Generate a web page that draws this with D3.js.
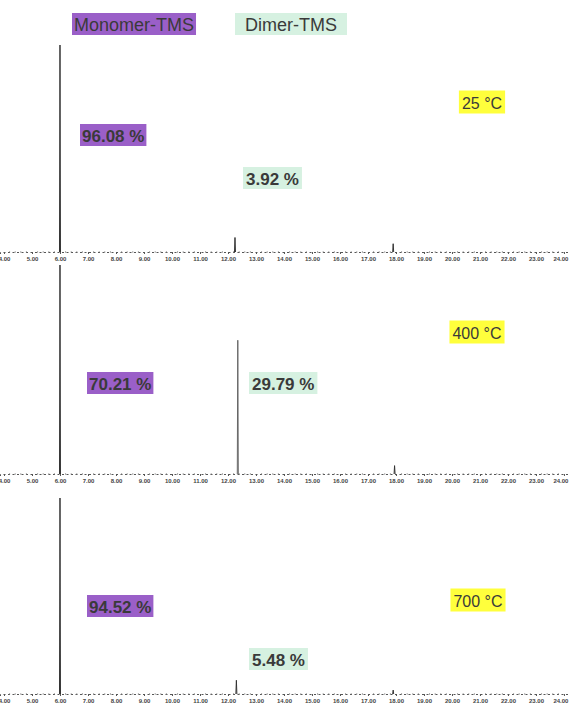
<!DOCTYPE html>
<html>
<head>
<meta charset="utf-8">
<script src="https://cdn.jsdelivr.net/npm/d3@7"></script>
<style>
  body { margin: 0; background: #fff; }
  svg { display: block; font-family: "Liberation Sans", Arial, sans-serif; }
</style>
</head>
<body>
<svg id="chart" width="569" height="709"></svg>
<script>
// series
const seriesNames = ["Monomer-TMS", "Dimer-TMS"];
const temperatures = ["25 \u00b0C", "400 \u00b0C", "700 \u00b0C"];
const monomerPct = ["96.08 %", "70.21 %", "94.52 %"];
const dimerPct = ["3.92 %", "29.79 %", "5.48 %"];

// retention time (min) of each peak: monomer, dimer, minor
const peakTimes25 = [6.0, 12.25, 17.9];
const peakTimes400 = [6.0, 12.35, 17.95];
const peakTimes700 = [6.0, 12.3, 17.9];
// relative abundance
const peakHeights25 = [100, 7, 4];
const peakHeights400 = [100, 64, 4];
const peakHeights700 = [100, 7, 2];

const tickLabels = ["4.00", "5.00", "6.00", "7.00", "8.00", "9.00", "10.00", "11.00", "12.00",
  "13.00", "14.00", "15.00", "16.00", "17.00", "18.00", "19.00", "20.00", "21.00", "22.00",
  "23.00", "24.00"];

const colors = { monomer: "#9a5fc8", dimer: "#d6f1e1", temp: "#ffff3c", text: "#3a3a3a" };

const svg = d3.select("#chart");
const W = 569;

const x = d3.scaleLinear().domain([3.857, 24.18]).range([0, W]);

const panels = [
  { times: peakTimes25, heights: peakHeights25, base: 252, top: 45,
    mono: [80, 135], dim: [243, 178], temp: [482, 102] },
  { times: peakTimes400, heights: peakHeights400, base: 474, top: 265,
    mono: [87, 383], dim: [249, 383], temp: [477, 332] },
  { times: peakTimes700, heights: peakHeights700, base: 694, top: 498,
    mono: [87, 606], dim: [249, 659], temp: [478, 600] }
];

// label in a coloured box; px = left edge (or centre), py = vertical centre
function boxLabel(g, txt, px, py, fill, opts) {
  const o = Object.assign({ size: 17, weight: "bold", padX: 3, h: 22, center: false }, opts);
  const grp = g.append("g");
  const rect = grp.append("rect").attr("fill", fill);
  const t = grp.append("text")
    .text(txt)
    .attr("font-size", o.size)
    .attr("font-weight", o.weight)
    .attr("fill", colors.text)
    .attr("dominant-baseline", "central")
    .attr("y", py + 1);
  const w = t.node().getComputedTextLength() + o.padX * 2;
  const left = o.center ? px - w / 2 : px;
  t.attr("x", left + o.padX);
  rect.attr("x", left).attr("y", py - o.h / 2).attr("width", w).attr("height", o.h);
}

// legend
boxLabel(svg, seriesNames[0], 72, 24, colors.monomer, { weight: "normal", size: 18, padX: 2, h: 22 });
boxLabel(svg, seriesNames[1], 235, 24, colors.dimer, { weight: "normal", size: 18, padX: 10, h: 22 });

panels.forEach((p, i) => {
  const g = svg.append("g");
  const y = d3.scaleLinear().domain([0, 100]).range([p.base, p.top]);

  // axis: dotted baseline with ticks and labels
  const axis = d3.axisBottom(x)
    .tickValues(tickLabels.map(Number))
    .tickFormat((d, k) => tickLabels[k])
    .tickSize(2)
    .tickPadding(3);
  const ax = g.append("g").attr("transform", `translate(0,${p.base})`).call(axis);
  ax.select(".domain").attr("stroke", "#555").attr("stroke-dasharray", "2,2.5").attr("stroke-width", 1);
  ax.selectAll(".tick line").attr("stroke", "#555");
  ax.selectAll(".tick text")
    .attr("font-size", 6)
    .attr("font-weight", "bold")
    .attr("fill", "#444")
    .attr("font-family", "Liberation Sans, Arial, sans-serif")
    .attr("text-anchor", (d, k) => k === tickLabels.length - 1 ? "end" : "middle")
    .attr("dx", (d, k) => k === tickLabels.length - 1 ? 4 : 0);

  // minor ticks
  const minorTicks = x.ticks(100).filter(t => Math.abs(t - Math.round(t)) > 1e-6);
  g.append("g").selectAll("line").data(minorTicks).join("line")
    .attr("x1", d => x(d)).attr("x2", d => x(d))
    .attr("y1", p.base - 1).attr("y2", p.base + 1)
    .attr("stroke", "#777").attr("stroke-width", 0.6);

  // peaks
  const line = d3.line().x(d => d[0]).y(d => d[1]);
  g.append("g").selectAll("path").data(p.times.map((t, k) => [t, p.heights[k]])).join("path")
    .attr("d", d => line([[x(d[0]) - 0.5, y(0)], [x(d[0]), y(d[1])], [x(d[0]) + 0.5, y(0)]]))
    .attr("fill", "none")
    .attr("stroke", (d, k) => k === 1 && i === 1 ? "#666" : "#333")
    .attr("stroke-width", 1);

  // labels
  boxLabel(g, monomerPct[i], p.mono[0], p.mono[1], colors.monomer, { padX: 2 });
  boxLabel(g, dimerPct[i], p.dim[0], p.dim[1], colors.dimer, { padX: 3 });
  boxLabel(g, temperatures[i], p.temp[0], p.temp[1], colors.temp,
    { weight: "normal", size: 16, padX: 3, h: 23, center: true });
});
</script>
</body>
</html>
